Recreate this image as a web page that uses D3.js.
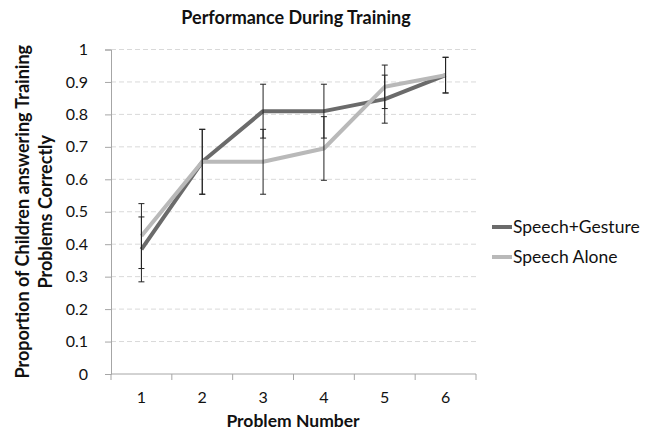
<!DOCTYPE html>
<html>
<head>
<meta charset="utf-8">
<script src="https://cdn.jsdelivr.net/npm/d3@7"></script>
<style>
  body { margin: 0; background: #fff; }
  text { font-family: Lato, "Open Sans", sans-serif; fill: #111; }
</style>
</head>
<body>
<div id="chart"></div>
<script>
/* Chart values */
var problems = [1, 2, 3, 4, 5, 6];
var gestureVals = [0.384, 0.654, 0.81, 0.81, 0.847, 0.921];
var gestureErr  = [0.10, 0.10, 0.083, 0.083, 0.074, 0.055];
var aloneVals   = [0.425, 0.654, 0.654, 0.695, 0.885, 0.921];
var aloneErr    = [0.10, 0.10, 0.10, 0.098, 0.067, 0.055];
var yTicks = [0, 0.1, 0.2, 0.3, 0.4, 0.5, 0.6, 0.7, 0.8, 0.9, 1];

var series = [
  {name: "Speech+Gesture", values: gestureVals, err: gestureErr, color: "#6b6b6b"},
  {name: "Speech Alone", values: aloneVals, err: aloneErr, color: "#b9b9b9"}
];

var width = 650, height = 435;
var margin = {top: 49.5, right: 174, bottom: 61, left: 111};

var svg = d3.select("#chart").append("svg")
    .attr("width", width).attr("height", height);

var x = d3.scaleBand()
    .domain(problems)
    .range([margin.left, width - margin.right]);

var y = d3.scaleLinear()
    .domain([0, 1])
    .range([height - margin.bottom, margin.top]);

/* Gridlines */
svg.append("g")
  .selectAll("line")
  .data(yTicks.slice(1))
  .enter().append("line")
    .attr("x1", margin.left)
    .attr("x2", width - margin.right)
    .attr("y1", function(d) { return y(d); })
    .attr("y2", function(d) { return y(d); })
    .attr("stroke", "#d9d9d9")
    .attr("stroke-dasharray", "5,3");

/* Y axis */
var yAxis = svg.append("g")
    .attr("transform", "translate(" + margin.left + ",0)")
    .call(d3.axisLeft(y).tickValues(yTicks).tickSize(6).tickPadding(17)
      .tickFormat(function(d) { return d === 0 || d === 1 ? d : d3.format(".1f")(d); }));
yAxis.select(".domain").attr("stroke", "#a6a6a6");
yAxis.selectAll(".tick line").attr("stroke", "#a6a6a6");
yAxis.selectAll("text").style("font-size", "16px").attr("fill", "#111");

/* X axis with ticks between categories */
var xAxis = svg.append("g")
    .attr("transform", "translate(0," + y(0) + ")");
xAxis.append("line")
    .attr("x1", margin.left).attr("x2", width - margin.right)
    .attr("stroke", "#a6a6a6");
var edges = problems.map(function(d) { return x(d); }).concat([x.range()[1]]);
xAxis.selectAll(".xt")
  .data(edges)
  .enter().append("line")
    .attr("class", "xt")
    .attr("x1", function(d) { return d; })
    .attr("x2", function(d) { return d; })
    .attr("y1", 0).attr("y2", 6)
    .attr("stroke", "#a6a6a6");
xAxis.selectAll(".xl")
  .data(problems)
  .enter().append("text")
    .attr("class", "xl")
    .attr("x", function(d) { return x(d) + x.bandwidth() / 2; })
    .attr("y", 29)
    .attr("text-anchor", "middle")
    .style("font-size", "16px")
    .text(function(d) { return d; });

/* Lines */
var line = d3.line()
    .x(function(d, i) { return x(problems[i]) + x.bandwidth() / 2; })
    .y(function(d) { return y(d); });

series.forEach(function(s) {
  svg.append("path")
    .datum(s.values)
    .attr("fill", "none")
    .attr("stroke", s.color)
    .attr("stroke-width", 4)
    .attr("stroke-linejoin", "round")
    .attr("d", line);
});

/* Error bars */
series.forEach(function(s) {
  var g = svg.append("g");
  s.values.forEach(function(v, i) {
    var cx = x(problems[i]) + x.bandwidth() / 2;
    var top = y(v + s.err[i]), bot = y(v - s.err[i]);
    g.append("line").attr("x1", cx).attr("x2", cx).attr("y1", top).attr("y2", bot)
      .attr("stroke", "#222").attr("stroke-width", 1);
    [top, bot].forEach(function(yy) {
      g.append("line").attr("x1", cx - 3).attr("x2", cx + 3).attr("y1", yy).attr("y2", yy)
        .attr("stroke", "#222").attr("stroke-width", 1);
    });
  });
});

/* Title */
svg.append("text")
    .attr("x", 296).attr("y", 24)
    .attr("text-anchor", "middle")
    .style("font-size", "18px").style("font-weight", "bold")
    .text("Performance During Training");

/* Axis titles */
svg.append("text")
    .attr("x", 293).attr("y", 427)
    .attr("text-anchor", "middle")
    .style("font-size", "17.5px").style("font-weight", "bold")
    .text("Problem Number");

var yl = svg.append("text")
    .attr("transform", "translate(29," + ((y(0) + y(1)) / 2) + ") rotate(-90)")
    .attr("text-anchor", "middle")
    .style("font-size", "18px").style("font-weight", "bold");
yl.append("tspan").attr("x", 0).attr("dy", 0).text("Proportion of Children answering Training");
yl.append("tspan").attr("x", 0).attr("dy", 23).text("Problems Correctly");

/* Legend */
var leg = svg.append("g")
  .selectAll("g")
  .data(series)
  .enter().append("g")
    .attr("transform", function(d, i) { return "translate(492," + (227 + i * 30) + ")"; });
leg.append("line")
    .attr("x1", 0).attr("x2", 20)
    .attr("stroke", function(d) { return d.color; })
    .attr("stroke-width", 4);
leg.append("text")
    .attr("x", 21).attr("dy", "0.35em")
    .style("font-size", "17.5px")
    .text(function(d) { return d.name; });
</script>
</body>
</html>
